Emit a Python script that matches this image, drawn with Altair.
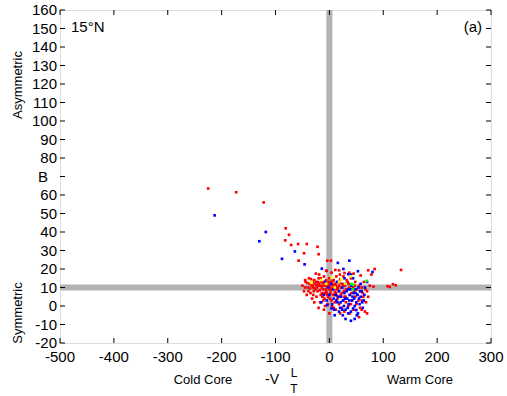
import altair as alt
import pandas as pd

# (x, y) pairs: x = -V_T^L, y = B
RED = [
    (-225, 63.5), (-173, 61.5), (-122, 56), (-81, 42), (-75, 38.5), (-82, 35.5),
    (-71, 33), (-58, 33.5), (-42, 33.5), (-22, 32), (-47, 28.5), (-20, 28),
    (-57, 24.5), (-4, 24.5), (-6, 19), (-19, 17), (-44, 13), (-31, 11),
    (3, 24.5), (-5, 19), (4, 18), (11, 19.5), (18, 19.3), (19.5, 17), (28, 17.8),
    (37, 18), (45, 17.5), (58, 16.5), (72, 19.3), (84, 20), (78, 17), (133, 19.5),
    (108, 10.7), (112, 10.3), (118, 11.8), (123, 11.2), (82, 10.5), (75, 11),
    (64, 13), (60, 10), (70, 8),
    (-37, 12), (-30, 10), (-28, 14), (-25, 17.5), (-22, 8), (-20, 15), (-18, 11),
    (-16, 6), (-15, 13), (-12, 9), (-10, 16), (-9, 4), (-8, 11), (-6, 14), (-5, 7),
    (-4, 10), (-3, 12.5), (-2, 5), (-1, 9), (0, 15), (1, 11), (2, 7), (3, 13),
    (4, 3), (5, 9), (6, 11.5), (7, 6), (8, 14), (9, 9.5), (10, 2), (11, 12),
    (12, 7), (13, 16), (14, 10), (15, 4), (16, 13), (17, 8), (18, 11), (20, 14.5),
    (21, 6), (22, 10), (24, 12), (25, 3), (26, 16), (27, 8), (29, 11), (30, 5),
    (32, 14), (33, 9), (35, 0), (36, 12), (38, 6), (40, 15), (42, 3), (44, 10),
    (46, 8), (48, 13), (50, 1), (52, 6), (55, 11), (57, -1), (60, 3), (62, 7),
    (66, -3), (70, -4), (72, 5), (68, 2),
    (-50, 11), (-47, 8), (-45, 14), (-42, 6), (-40, 10), (-38, 15), (-35, 7),
    (-33, 11), (-32, 4), (-29, 8), (-27, 12), (-24, 5), (-23, 10), (-21, 13),
    (-17, 2), (-14, 7), (-13, 11), (-11, 3), (-7, 9), (-3, 1),
    (-26, 9), (-19, 12), (-14, 10), (-9, 13), (-6, 8), (-2, 11), (2, 9.5),
    (6, 13.5), (9, 6), (13, 9), (-36, 9.5), (-31, 13), (-24, 11.5), (-11, 6),
    (-20, -1), (-10, -2), (0, -4), (5, 0), (12, -2), (18, 1), (23, -1), (28, -3),
    (45, -2), (55, -6), (38, -4), (48, 5), (31, 2),
    (-45, 10), (-41, 12.5), (-39, 8), (-34, 14.5), (-30, 6), (-27, 9.5), (-25, 13),
    (-22, 11), (-18, 8.5), (-16, 15), (-13, 5), (-12, 12.5), (-9, 7), (-7, 11.5),
    (-4, 6), (-1, 13), (1, 4), (3, 8.5), (5, 12), (7, 10), (10, 7.5), (12, 11),
    (14, 5.5), (16, 9.5), (19, 12.5), (23, 7), (26, 11.5), (28, 5), (31, 9),
    (34, 13), (37, 10), (41, 7), (47, 11), (51, 9), (54, 3), (58, 8), (63, 5),
    (67, 9), (-28, 2), (-8, 0), (8, -1), (20, -4), (40, 1), (60, -2),
]

BLUE = [
    (-213, 49), (-118, 40), (-130, 35), (-64, 29.5), (-88, 25.5), (-46, 22.5),
    (-14, 20.2), (15.7, 23.3), (37, 24.5), (35, 17.2), (53, 18.8), (80, 18.4),
    (26, 20), (44, 15),
    (-5, 3), (-4, 0.5), (4, -1.3), (8, 4), (12, 6), (15, 2), (18, 8), (20, -1),
    (22, 5), (24, 10), (26, 3), (28, 7), (30, -2), (31, 12), (33, 4), (35, 9),
    (36, 1), (38, 6), (40, -3), (41, 11), (42, 3), (44, -1.3), (45, 7), (46, 4),
    (48, 9), (50, -2.2), (50, 2), (52, 6), (53, -4), (54, 10), (56, 1), (58, 5),
    (60, 8), (62, -1), (64, 3), (25, -5), (30, -7), (35, -4), (18, -3), (10, -5),
    (0, 6), (-2, 10), (3, 12), (7, 9), (14, 13), (28, 15), (40, 17), (58, 12),
    (66, 10), (-10, 6), (-15, 2), (-8, 13),
    (5, 1), (9, -2), (13, 3), (17, 5), (21, 2), (24, -2), (27, 0), (29, 4),
    (32, 8), (34, -1), (37, 3), (39, 9), (43, 5), (47, 0), (49, 7), (51, -5),
    (55, 4), (57, 8), (61, 2), (65, 6), (47, -7), (40, -8), (70, 13),
]

YELLOW = [
    (-34, 12.7), (-33, 13), (-6, 12), (4, 15.5), (18, 13), (22, 14.5),
    (10, 10), (30, 12), (-15, 14), (40, 16),
]

GREEN = [(41, 12), (44, 11.5), (69, 13.6), (44, 9)]

X_TICKS = [-500, -400, -300, -200, -100, 0, 100, 200, 300]
Y_TICKS = list(range(-20, 161, 10))
# the "B" label takes the place of the 70 tick label
Y_LABELS = [v for v in Y_TICKS if v != 70]

W, H = 431, 333
FONT = "Liberation Sans"

rows = []
for name, pts in [("red", RED), ("blue", BLUE), ("yellow", YELLOW), ("green", GREEN)]:
    for x, y in pts:
        rows.append({"x": x, "y": y, "group": name})
points_df = pd.DataFrame(rows)
points_df["order"] = range(len(points_df))

xscale = alt.Scale(domain=[-500, 300], nice=False, zero=False)
yscale = alt.Scale(domain=[-20, 160], nice=False, zero=False)


def xq(field):
    return alt.X(field, type="quantitative", scale=xscale, axis=None)


def yq(field):
    return alt.Y(field, type="quantitative", scale=yscale, axis=None)


points = alt.Chart(points_df).mark_square(size=7, opacity=1).encode(
    x=xq("x"),
    y=yq("y"),
    color=alt.Color("group:N", legend=None,
                    scale=alt.Scale(domain=["red", "blue", "yellow", "green"],
                                    range=["#ff0000", "#0000ff", "#ffff00", "#00ff00"])),
    order="order:Q",
)

gray = "#b3b3b3"
vline = alt.Chart(pd.DataFrame({"x": [0]})).mark_rule(color=gray, strokeWidth=6).encode(x=xq("x"))
hline = alt.Chart(pd.DataFrame({"y": [10]})).mark_rule(color=gray, strokeWidth=6).encode(y=yq("y"))

xt = pd.DataFrame({"v": X_TICKS, "s": [str(v) for v in X_TICKS]})
yt = pd.DataFrame({"v": Y_TICKS})
yl = pd.DataFrame({"v": Y_LABELS, "s": [str(v) for v in Y_LABELS]})

# inward ticks on all four sides of the box
tick_bottom = alt.Chart(xt).mark_rule(color="black").encode(
    x=xq("v"), y=alt.value(H), y2=alt.value(H - 5))
tick_top = alt.Chart(xt).mark_rule(color="black").encode(
    x=xq("v"), y=alt.value(0), y2=alt.value(5))
tick_left = alt.Chart(yt).mark_rule(color="black").encode(
    y=yq("v"), x=alt.value(0), x2=alt.value(5))
tick_right = alt.Chart(yt).mark_rule(color="black").encode(
    y=yq("v"), x=alt.value(W), x2=alt.value(W - 5))

# tick labels
xlab = alt.Chart(xt).mark_text(font=FONT, fontSize=15, baseline="top", color="black").encode(
    x=xq("v"), y=alt.value(H + 7), text="s:N")
ylab = alt.Chart(yl).mark_text(font=FONT, fontSize=15, align="right", baseline="middle",
                               color="black").encode(
    y=yq("v"), x=alt.value(-3), text="s:N")


def label(text, x, y, size=13, angle=0, align="center", baseline="middle"):
    return alt.Chart(pd.DataFrame({"t": [text]})).mark_text(
        font=FONT, fontSize=size, angle=angle, align=align, baseline=baseline,
        color="black").encode(text="t:N", x=alt.value(x), y=alt.value(y))


texts = [
    label("15°N", 11, 17, size=15, align="left"),
    label("(a)", 422, 17, size=15, align="right"),
    label("B", -17, 167, size=15),
    label("Asymmetric", -42, 75, size=13, angle=270),
    label("Symmetric", -42, 303, size=13, angle=270),
    label("Cold Core", 143, 370),
    label("Warm Core", 360, 370),
    label("-V", 212, 370, size=14),
    label("L", 234, 363, size=12),
    label("T", 234, 379, size=12),
]

chart = alt.layer(
    vline, hline, points, tick_bottom, tick_top, tick_left, tick_right, xlab, ylab, *texts
).properties(
    width=W, height=H,
    autosize=alt.AutoSizeParams(type="none"),
    padding={"left": 60, "top": 10, "right": 16, "bottom": 53},
).configure_view(stroke="black", strokeWidth=1).configure(background="white")

chart.save("out.html", embed_options={"renderer": "svg", "actions": False})
